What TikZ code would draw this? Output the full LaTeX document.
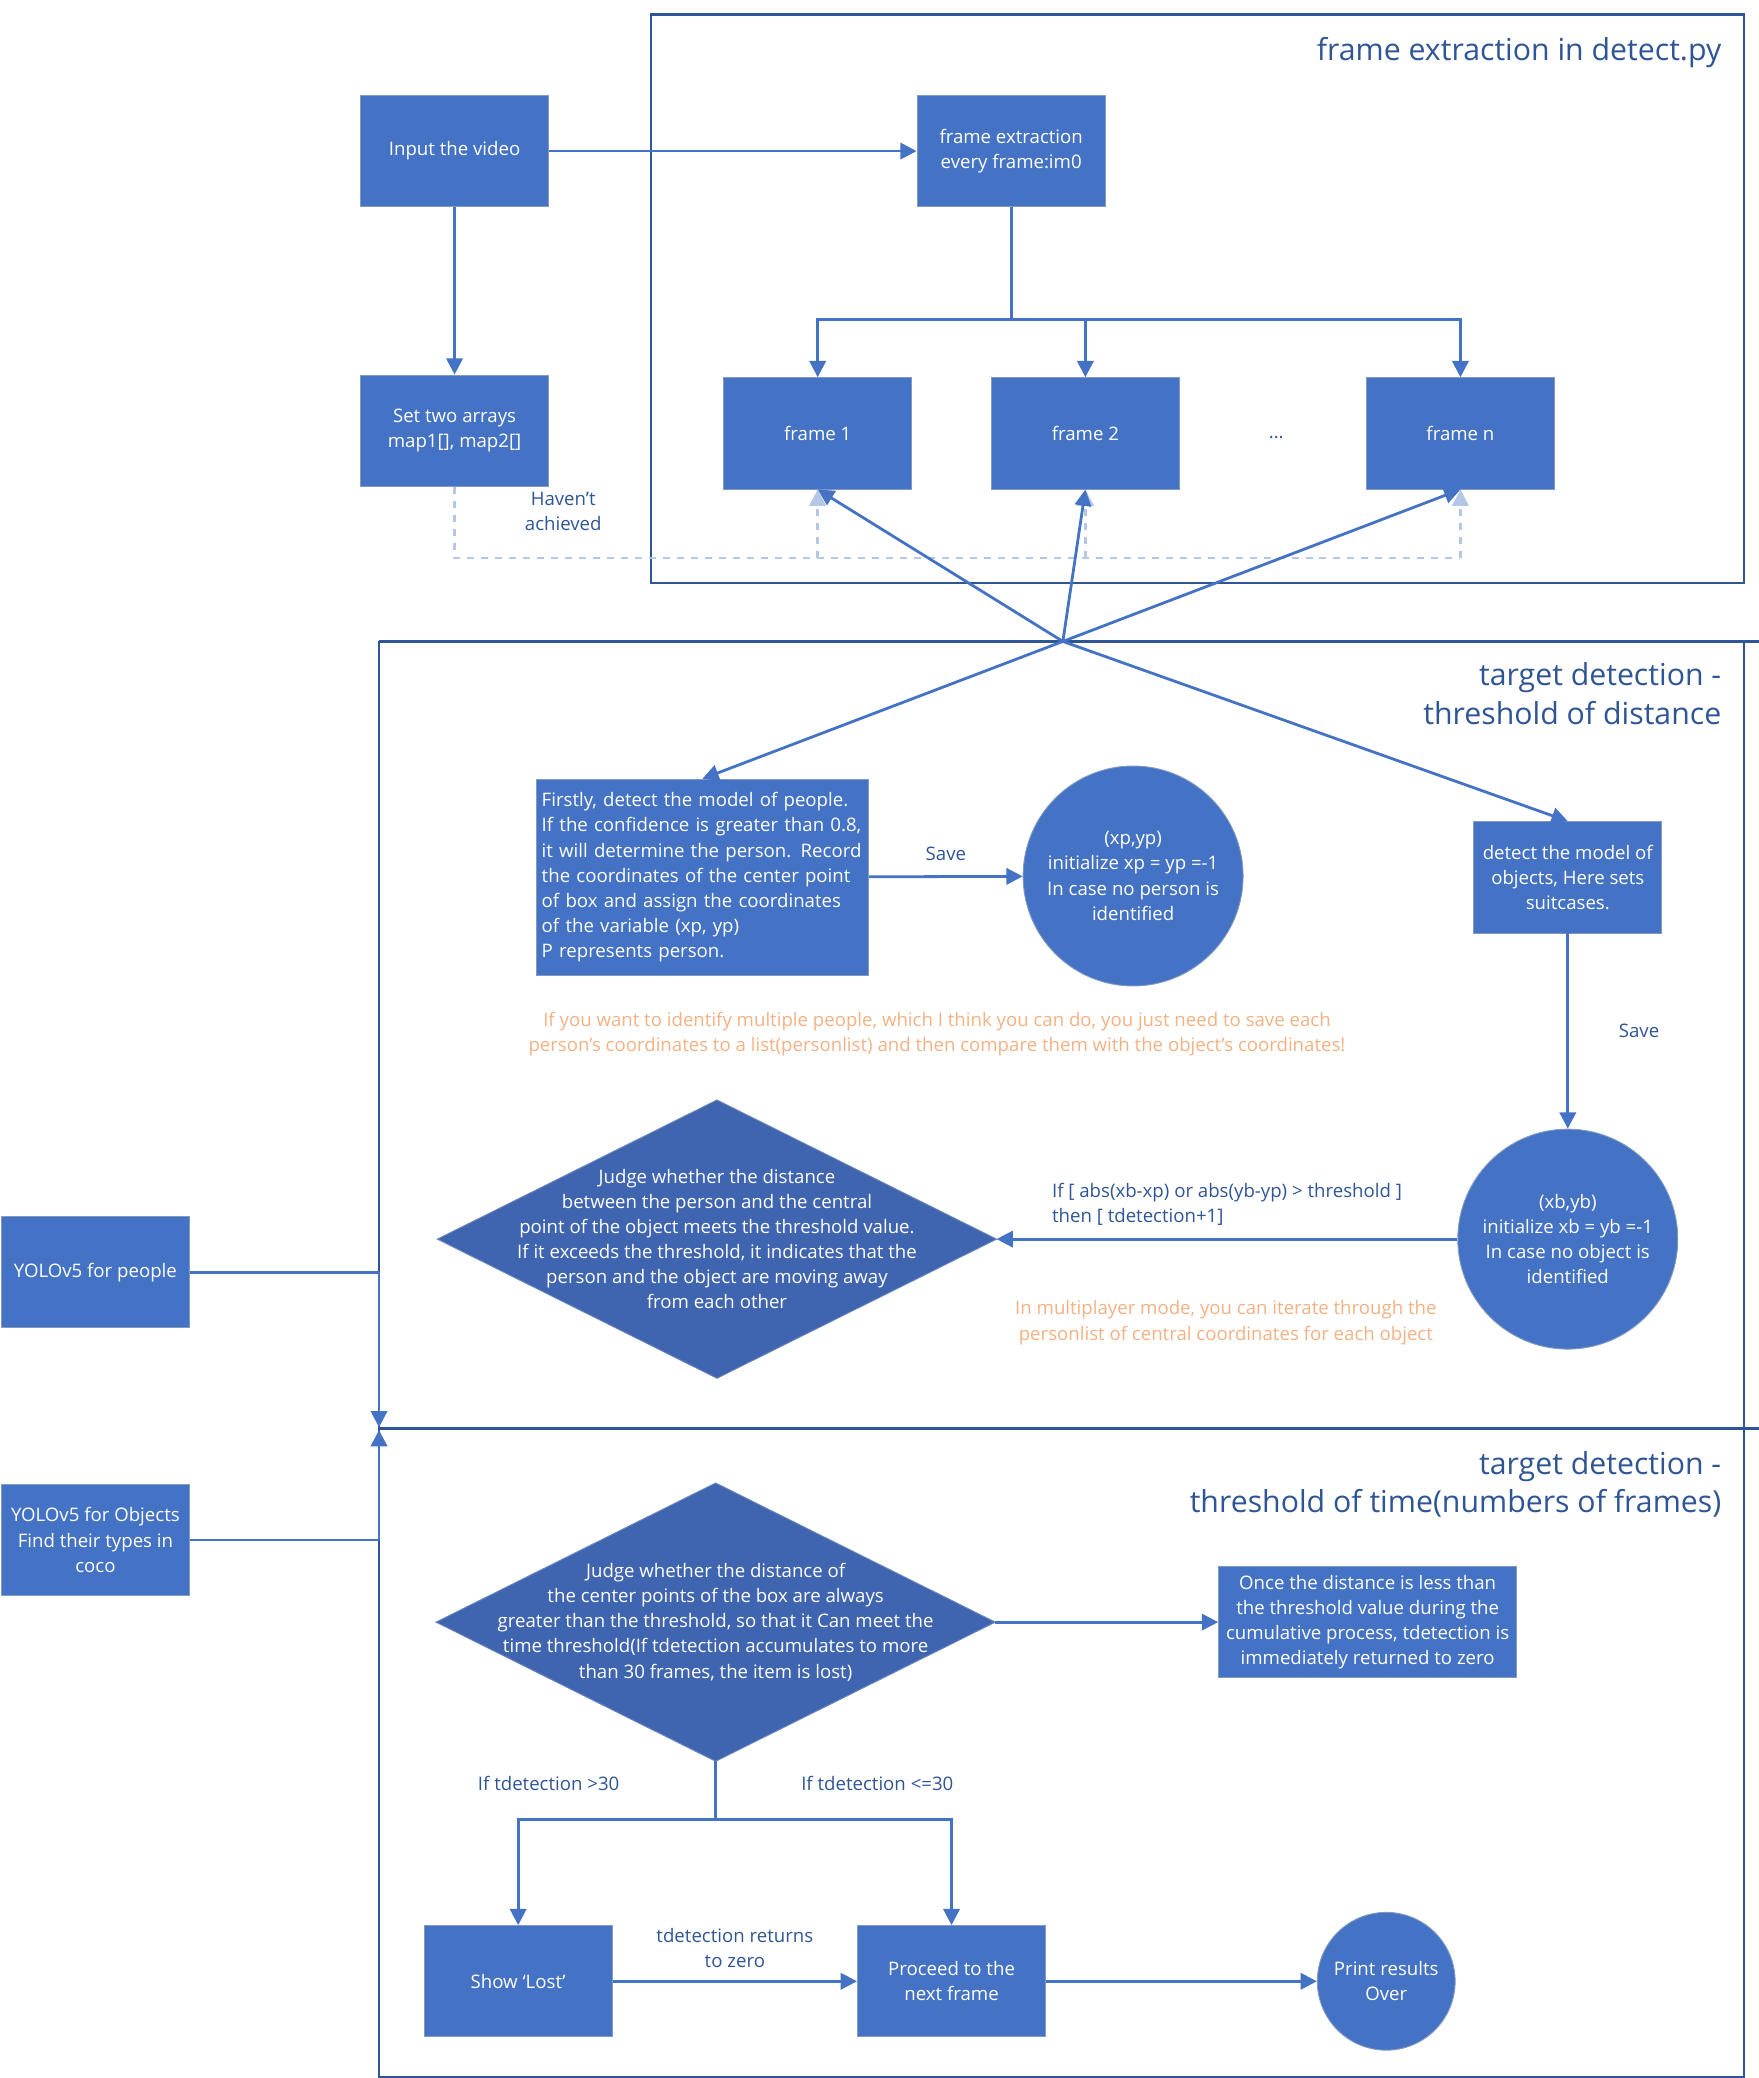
\documentclass[tikz,border=0pt]{standalone}
\usepackage{fontspec}
\setmainfont{Open Sans}
\usetikzlibrary{arrows.meta,shapes.geometric}
\definecolor{bfill}{HTML}{4472C4}
\definecolor{dfill}{HTML}{3F64B0}
\definecolor{lcol}{HTML}{2F5597}
\definecolor{acol}{HTML}{4472C4}
\definecolor{orng}{HTML}{F4B183}
\definecolor{dashc}{HTML}{B4C7E7}
\definecolor{tcol}{HTML}{2F5597}
\begin{document}
\begin{tikzpicture}[x=0.02cm,y=-0.02cm,
 every node/.style={font=\fontsize{8}{10.8}\selectfont},
 box/.style={draw=lcol!60,fill=bfill,text=white,align=center,inner sep=2pt},
 circ/.style={circle,fill=bfill,draw=lcol!60,text=white,align=center,inner sep=0pt},
 diashape/.style={fill=dfill,draw=lcol!70},
 arr/.style={draw=acol,line width=1.2pt,-{Triangle[length=7pt,width=7pt]}},
 ln/.style={draw=acol,line width=1.2pt},
 frm/.style={draw=lcol,line width=1pt},
 ttl/.style={text=tcol,font=\fontsize{13}{16.5}\selectfont,align=right,anchor=north east},
 lab/.style={text=lcol,align=center},
 org/.style={text=orng,align=center}]
\useasboundingbox (0,0) rectangle (1327,1568);
% frames
\draw[frm] (491,11) rectangle (1316,440);
\draw[frm] (286,484) -- (1327,484);
\draw[frm] (1316,484) -- (1316,1567) -- (286,1567) -- (286,484);
\draw[frm] (286,1078) -- (1327,1078);
\node[ttl] at (1305,22) {frame extraction in detect.py};
\node[ttl] at (1305,494) {target detection -\\threshold of distance};
\node[ttl] at (1305,1089) {target detection -\\threshold of time(numbers of frames)};
% boxes
\node[box,minimum width=2.84cm,minimum height=1.68cm] (inp) at (343,114) {Input the video};
\node[box,minimum width=2.84cm,minimum height=1.68cm] (fe) at (763,114) {frame extraction\\every frame:im0};
\node[box,minimum width=2.84cm,minimum height=1.68cm] (arr) at (343,325) {Set two arrays\\map1[], map2[]};
\node[box,minimum width=2.84cm,minimum height=1.68cm] (f1) at (617,327) {frame 1};
\node[box,minimum width=2.84cm,minimum height=1.68cm] (f2) at (819,327) {frame 2};
\node[box,minimum width=2.84cm,minimum height=1.68cm] (fn) at (1102,327) {frame n};
\node[text=lcol] (dots) at (963,330) {...};
\draw[arr] (inp) -- (fe);
\draw[arr] (inp) -- (arr);
\coordinate (br) at (763,241);
\draw[ln] (fe.south) -- (br);
\draw[arr] (br) -| (f1.north);
\draw[arr] (br) -| (f2.north);
\draw[arr] (br) -| (fn.north);
% dashed
\coordinate (d0) at (343,421);
\draw[dashc,dashed,line width=1.2pt] (arr.south) -- (d0) -- (1102,421);
\foreach \n/\x in {f1/617,f2/819,fn/1102}
  \draw[dashc,dashed,line width=1.2pt,-{Triangle[length=7pt,width=7pt]}] (\x,421) -- (\n.south);
\node[lab] (hv) at (425,386) {Haven’t\\achieved};
% detection section
\coordinate (X) at (802,484);
\node[box,minimum width=5.02cm,minimum height=2.96cm,inner sep=0pt] (fp) at (530,662) {};
\node[text=white,text width=4.85cm,align=left] (fpt) at (530,662) {\hyphenpenalty=10000 Firstly, detect the model of people. If the confidence is greater than 0.8, it will determine the person. Record the coordinates of the center point of box and assign the coordinates of the variable (xp, yp)\\P represents person.};
\node[circ,minimum size=3.32cm] (cp) at (855,661) {(xp,yp)\\initialize xp = yp =-1\\In case no person is\\identified};
\node[box,minimum width=2.84cm,minimum height=1.68cm] (ob) at (1183,662) {detect the model of\\objects, Here sets\\suitcases.};
\node[circ,minimum size=3.32cm] (cb) at (1183,935) {(xb,yb)\\initialize xb = yb =-1\\In case no object is\\identified};
\draw[arr] (X) -- (f1.south);
\draw[arr] (X) -- (f2.south);
\draw[arr] (X) -- (fn.south);
\draw[arr] (X) -- (fp.north);
\draw[arr] (X) -- (ob.north);
\draw[arr] (fp) -- node[lab,above=3pt]{Save} (cp);
\draw[arr] (ob) -- node[lab,right=18pt]{Save} (cb);
\node[org] (o1) at (707,780) {If you want to identify multiple people, which I think you can do, you just need to save each\\person's coordinates to a list(personlist) and then compare them with the object's coordinates!};
% diamond 1
\coordinate (d1w) at (330,935); \coordinate (d1e) at (752,935);
\coordinate (d1n) at (541,830); \coordinate (d1s) at (541,1040);
\draw[diashape] (d1w) -- (d1n) -- (d1e) -- (d1s) -- cycle;
\node[text=white,align=center] (d1) at (541,935) {Judge whether the distance\\between the person and the central\\point of the object meets the threshold value.\\If it exceeds the threshold, it indicates that the\\person and the object are moving away\\from each other};
\draw[arr] (cb.west) -- node[lab,above=2pt,align=left]{If [ abs(xb-xp) or abs(yb-yp) > threshold ]\\then [ tdetection+1]} (d1e);
\node[org] (o2) at (925,998) {In multiplayer mode, you can iterate through the\\personlist of central coordinates for each object};
% YOLO
\node[box,minimum width=2.84cm,minimum height=1.68cm] (yp) at (72,960) {YOLOv5 for people};
\node[box,minimum width=2.84cm,minimum height=1.68cm] (yo) at (72,1162) {YOLOv5 for Objects\\Find their types in\\coco};
\coordinate (ya) at (286,960);
\coordinate (yb) at (286,1162);
\draw[ln] (yp) -- (ya);
\draw[arr] (ya) -- (286,1077);
\draw[ln] (yo) -- (yb);
\draw[arr] (yb) -- (286,1079);
% diamond 2
\coordinate (d2w) at (329,1224); \coordinate (d2e) at (751,1224);
\coordinate (d2n) at (540,1119); \coordinate (d2s) at (540,1329);
\draw[diashape] (d2w) -- (d2n) -- (d2e) -- (d2s) -- cycle;
\node[text=white,align=center] (d2) at (540,1224) {Judge whether the distance of\\the center points of the box are always\\greater than the threshold, so that it Can meet the\\time threshold(If tdetection accumulates to more\\than 30 frames, the item is lost)};
\node[box,minimum width=4.5cm,minimum height=1.68cm] (oc) at (1032,1224) {Once the distance is less than\\the threshold value during the\\cumulative process, tdetection is\\immediately returned to zero};
\draw[arr] (d2e) -- (oc);
\node[box,minimum width=2.84cm,minimum height=1.68cm] (sl) at (391,1495) {Show ‘Lost’};
\node[box,minimum width=2.84cm,minimum height=1.68cm] (pn) at (718,1495) {Proceed to the\\next frame};
\node[circ,minimum size=2.08cm] (pr) at (1046,1495) {Print results\\Over};
\coordinate (b2) at (540,1373);
\draw[ln] (d2s) -- (b2);
\draw[arr] (b2) -| (sl.north);
\draw[arr] (b2) -| (pn.north);
\node[lab] (l1) at (414,1346) {If tdetection >30};
\node[lab] (l2) at (662,1346) {If tdetection <=30};
\draw[arr] (sl) -- node[lab,above=2pt]{tdetection returns\\to zero} (pn);
\draw[arr] (pn) -- (pr);
\end{tikzpicture}
\end{document}
